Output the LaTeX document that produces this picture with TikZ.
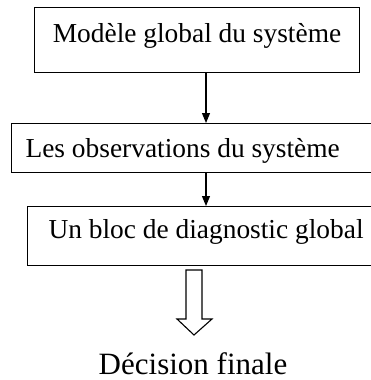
\documentclass[tikz,border=0pt]{standalone}
\usepackage{fontspec}
\setmainfont{Liberation Serif}
\usetikzlibrary{positioning, arrows.meta}

\begin{document}
\begin{tikzpicture}[
  x=1pt, y=-1pt,
  box/.style={rectangle, draw, line width=1.1pt, inner ysep=0pt, align=flush left,
    font=\fontsize{27.4}{32}\selectfont},
  arr/.style={-{Triangle[width=8pt,length=10pt]}, line width=1.1pt}
]
\clip (0,0) rectangle (371,380);
% boxes
\node[box, anchor=north west, inner xsep=9.5pt, text width=306pt, align=flush center,
  text height=35pt, text depth=30pt] (model) at (34,7) {Modèle global du système};
\node[box, anchor=north west, inner xsep=14pt, text width=340pt,
  text height=34pt, text depth=15pt] (obs) at (11,123) {Les observations du système};
\node[box, anchor=north west, inner xsep=21pt, text width=330pt,
  text height=32pt, text depth=27pt] (diag) at (27,206) {Un bloc de diagnostic global};
% connectors
\coordinate (ax) at (206,0);
\draw[arr] (model.south -| ax) -- (obs.north -| ax);
\draw[arr] (obs.south -| ax) -- (diag.north -| ax);
% output
\node[font=\fontsize{31}{36}\selectfont, anchor=base, inner sep=1pt] (decision) at (193,374) {Décision finale};
\draw[line width=1.1pt, line join=miter]
  (186,270) -- (202,270) -- (202,319) -- (212,319) -- (194,335)
  -- (177,319) -- (186,319) -- cycle;
\end{tikzpicture}
\end{document}
